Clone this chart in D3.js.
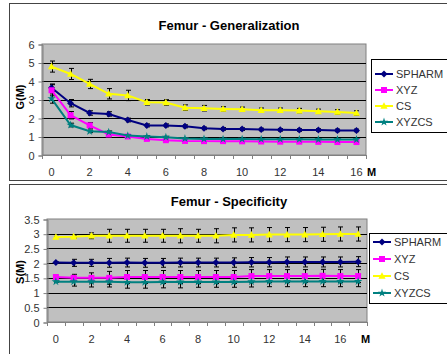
<!DOCTYPE html>
<html>
<head>
<meta charset="utf-8">
<script src="https://cdn.jsdelivr.net/npm/d3@7"></script>
<style>
  body { margin: 0; background: #fff; }
  svg { display: block; font-family: Arial, "Liberation Sans", sans-serif; }
</style>
</head>
<body>
<svg id="chart" width="447" height="354"></svg>
<script>
// series names + colours
const seriesNames = ["SPHARM", "XYZ", "CS", "XYZCS"];
const seriesColors = ["#000080", "#FF00FF", "#FFFF00", "#008080"];
const seriesMarkers = ["diamond", "square", "triangle", "star"];

// Generalization G(M), M = 0..16
const genM = d3.range(0, 17);
const genSPHARM = [3.64, 2.8, 2.27, 2.22, 1.89, 1.6, 1.6, 1.55, 1.44, 1.41, 1.4, 1.38, 1.36, 1.35, 1.35, 1.33, 1.33];
const genSPHARMerr = [0.2, 0.2, 0.12, 0.12, 0.1, 0.08, 0.08, 0.08, 0.07, 0.07, 0.07, 0.07, 0.07, 0.07, 0.07, 0.07, 0.07];
const genXYZ = [3.5, 2.15, 1.6, 1.11, 1.0, 0.87, 0.8, 0.76, 0.75, 0.75, 0.74, 0.73, 0.72, 0.72, 0.71, 0.7, 0.7];
const genXYZerr = [0.3, 0.2, 0.15, 0.08, 0.06, 0.06, 0.05, 0.05, 0.05, 0.05, 0.05, 0.05, 0.05, 0.05, 0.05, 0.05, 0.05];
const genCS = [4.78, 4.38, 3.84, 3.31, 3.22, 2.85, 2.84, 2.56, 2.53, 2.49, 2.47, 2.42, 2.42, 2.4, 2.36, 2.33, 2.27];
const genCSerr = [0.3, 0.3, 0.25, 0.28, 0.28, 0.15, 0.15, 0.15, 0.15, 0.12, 0.12, 0.12, 0.12, 0.12, 0.12, 0.12, 0.12];
const genXYZCS = [3.05, 1.62, 1.28, 1.24, 1.05, 1.0, 0.96, 0.89, 0.87, 0.86, 0.86, 0.85, 0.85, 0.85, 0.84, 0.84, 0.84];
const genXYZCSerr = [0.25, 0.1, 0.07, 0.06, 0.05, 0.05, 0.05, 0.05, 0.05, 0.05, 0.05, 0.05, 0.05, 0.05, 0.05, 0.05, 0.05];

// Specificity S(M), M = 0..17
const specM = d3.range(0, 18);
const specSPHARM = [2.02, 2.01, 2.01, 2.01, 2.02, 2.01, 2.01, 2.02, 2.02, 2.02, 2.02, 2.03, 2.03, 2.04, 2.04, 2.04, 2.04, 2.05];
const specSPHARMerr = [0.02, 0.12, 0.12, 0.15, 0.15, 0.15, 0.15, 0.15, 0.15, 0.15, 0.16, 0.16, 0.16, 0.17, 0.17, 0.17, 0.17, 0.17];
const specXYZ = [1.53, 1.5, 1.5, 1.5, 1.53, 1.53, 1.53, 1.53, 1.53, 1.53, 1.53, 1.56, 1.56, 1.56, 1.56, 1.57, 1.56, 1.56];
const specXYZerr = [0.02, 0.12, 0.17, 0.22, 0.22, 0.22, 0.22, 0.22, 0.22, 0.22, 0.22, 0.22, 0.22, 0.22, 0.22, 0.22, 0.22, 0.22];
const specCS = [2.89, 2.9, 2.93, 2.93, 2.93, 2.93, 2.93, 2.93, 2.93, 2.93, 2.96, 2.96, 2.97, 2.97, 2.97, 2.98, 2.99, 2.99];
const specCSerr = [0.02, 0.05, 0.1, 0.22, 0.22, 0.22, 0.22, 0.24, 0.22, 0.24, 0.24, 0.24, 0.24, 0.24, 0.24, 0.24, 0.24, 0.24];
const specXYZCS = [1.37, 1.37, 1.37, 1.37, 1.35, 1.35, 1.36, 1.36, 1.36, 1.36, 1.36, 1.37, 1.38, 1.38, 1.38, 1.38, 1.38, 1.38];
const specXYZCSerr = [0.02, 0.15, 0.18, 0.18, 0.2, 0.2, 0.2, 0.2, 0.18, 0.18, 0.18, 0.18, 0.18, 0.18, 0.18, 0.18, 0.18, 0.18];

const genYTicks = [0, 1, 2, 3, 4, 5, 6];
const specYTicks = [0, 0.5, 1, 1.5, 2, 2.5, 3, 3.5];

const svg = d3.select("#chart");

function markerPath(kind) {
  if (kind == "diamond") return "M0,-3.5L3.5,0L0,3.5L-3.5,0Z";
  if (kind == "square") return "M-3,-3H3V3H-3Z";
  if (kind == "triangle") return "M0,-3.8L3.6,2.8H-3.6Z";
  return d3.symbol(d3.symbolStar, 22)();
}

function drawChart(cfg) {
  const g = svg.append("g");

  // outer frame
  g.append("rect")
    .attr("x", 9.5).attr("y", cfg.frameTop + 0.5)
    .attr("width", 450).attr("height", cfg.frameH)
    .attr("fill", "#fff").attr("stroke", "#444");

  const x = d3.scaleBand().domain(cfg.cats).range([cfg.left, cfg.right]);
  const y = d3.scaleLinear().domain([0, cfg.yMax]).range([cfg.bottom, cfg.top]);

  // plot area
  g.append("rect")
    .attr("x", cfg.left).attr("y", cfg.top)
    .attr("width", cfg.right - cfg.left).attr("height", cfg.bottom - cfg.top)
    .attr("fill", "#C0C0C0").attr("stroke", "#808080");

  // grid
  g.selectAll(".grid").data(cfg.yTicks.filter(d => d > 0 && d < cfg.yMax))
    .enter().append("line")
    .attr("x1", cfg.left).attr("x2", cfg.right)
    .attr("y1", d => Math.round(y(d)) + 0.5).attr("y2", d => Math.round(y(d)) + 0.5)
    .attr("stroke", "#000");

  // y axis
  const yAxis = d3.axisLeft(y).tickValues(cfg.yTicks).tickSize(4).tickPadding(4)
    .tickFormat(d => d);
  const ya = g.append("g").attr("transform", "translate(" + (cfg.left + 0.5) + ",0.5)").call(yAxis);
  ya.select(".domain").attr("stroke", "#808080");
  ya.selectAll("line").attr("stroke", "#808080");
  ya.selectAll("text").attr("font-size", 11).attr("fill", "#333")
    .attr("font-family", "Arial, 'Liberation Sans', sans-serif");

  // x axis: tick marks between categories
  const bw = x.bandwidth();
  g.append("line")
    .attr("x1", cfg.left).attr("x2", cfg.right)
    .attr("y1", cfg.bottom + 0.5).attr("y2", cfg.bottom + 0.5)
    .attr("stroke", "#808080");
  g.selectAll(".xt").data(d3.range(cfg.cats.length + 1))
    .enter().append("line")
    .attr("x1", i => Math.round(cfg.left + i * bw) + 0.5)
    .attr("x2", i => Math.round(cfg.left + i * bw) + 0.5)
    .attr("y1", cfg.bottom).attr("y2", cfg.bottom + 4)
    .attr("stroke", "#808080");
  g.selectAll(".xl").data(cfg.cats.filter(d => d % 2 == 0 && d <= 16))
    .enter().append("text")
    .attr("x", d => x(d) + bw / 2)
    .attr("y", cfg.xLabelY)
    .attr("text-anchor", "middle")
    .attr("font-size", 11).attr("fill", "#333")
    .text(d => d);

  g.append("text")
    .attr("x", cfg.mX).attr("y", cfg.xLabelY)
    .attr("font-size", 11).attr("font-weight", "bold")
    .text("M");

  // y title
  g.append("text")
    .attr("transform", "translate(" + 24 + "," + cfg.yTitleY + ") rotate(-90)")
    .attr("text-anchor", "middle")
    .attr("font-size", 11).attr("font-weight", "bold")
    .text(cfg.yTitle);

  // chart title
  g.append("text")
    .attr("x", 229).attr("y", cfg.titleY)
    .attr("text-anchor", "middle")
    .attr("font-size", 13).attr("font-weight", "bold")
    .text(cfg.title);

  const line = d3.line()
    .x((d, i) => x(cfg.cats[i]) + bw / 2)
    .y(d => y(d));

  cfg.series.forEach((vals, s) => {
    const errs = cfg.errs[s];
    // error bars
    const eb = g.append("g").attr("stroke", "#000").attr("stroke-width", 1);
    vals.forEach((v, i) => {
      const cx = Math.round(x(cfg.cats[i]) + bw / 2) + 0.5;
      const y0 = y(v - errs[i]), y1 = y(v + errs[i]);
      eb.append("line").attr("x1", cx).attr("x2", cx).attr("y1", y0).attr("y2", y1);
      eb.append("line").attr("x1", cx - 2.5).attr("x2", cx + 2.5).attr("y1", y0).attr("y2", y0);
      eb.append("line").attr("x1", cx - 2.5).attr("x2", cx + 2.5).attr("y1", y1).attr("y2", y1);
    });
  });

  cfg.series.forEach((vals, s) => {
    g.append("path").datum(vals)
      .attr("d", line)
      .attr("fill", "none")
      .attr("stroke", seriesColors[s])
      .attr("stroke-width", 2);
    g.selectAll(".m" + s).data(vals).enter().append("path")
      .attr("transform", (d, i) => "translate(" + (x(cfg.cats[i]) + bw / 2) + "," + y(d) + ")")
      .attr("d", markerPath(seriesMarkers[s]))
      .attr("fill", seriesColors[s]);
  });

  // legend
  const lg = g.append("g");
  lg.append("rect")
    .attr("x", cfg.legX + 0.5).attr("y", cfg.legY + 0.5)
    .attr("width", 90).attr("height", cfg.legH)
    .attr("fill", "#fff").attr("stroke", "#000");
  seriesNames.forEach((name, s) => {
    const ly = cfg.legY + cfg.legFirst + s * cfg.legStep;
    lg.append("line")
      .attr("x1", cfg.legX + 4).attr("x2", cfg.legX + 22)
      .attr("y1", ly).attr("y2", ly)
      .attr("stroke", seriesColors[s]).attr("stroke-width", 2);
    lg.append("path")
      .attr("transform", "translate(" + (cfg.legX + 13) + "," + ly + ")")
      .attr("d", markerPath(seriesMarkers[s]))
      .attr("fill", seriesColors[s]);
    lg.append("text")
      .attr("x", cfg.legX + 25).attr("y", ly + 4)
      .attr("font-size", 11).attr("fill", "#333")
      .text(name);
  });
}

drawChart({
  frameTop: 3, frameH: 177,
  cats: genM, yMax: 6, yTicks: genYTicks,
  left: 42, right: 366, top: 44, bottom: 155,
  series: [genSPHARM, genXYZ, genCS, genXYZCS],
  errs: [genSPHARMerr, genXYZerr, genCSerr, genXYZCSerr],
  xLabelY: 176, mX: 367,
  yTitle: "G(M)", yTitleY: 97,
  title: "Femur - Generalization", titleY: 30,
  legX: 371, legY: 59, legH: 73, legFirst: 15, legStep: 16
});

drawChart({
  frameTop: 184, frameH: 180,
  cats: specM, yMax: 3.5, yTicks: specYTicks,
  left: 47, right: 367, top: 219, bottom: 322,
  series: [specSPHARM, specXYZ, specCS, specXYZCS],
  errs: [specSPHARMerr, specXYZerr, specCSerr, specXYZCSerr],
  xLabelY: 343, mX: 361,
  yTitle: "S(M)", yTitleY: 272,
  title: "Femur - Specificity", titleY: 206,
  legX: 369, legY: 233, legH: 70, legFirst: 9, legStep: 17
});
</script>
</body>
</html>
